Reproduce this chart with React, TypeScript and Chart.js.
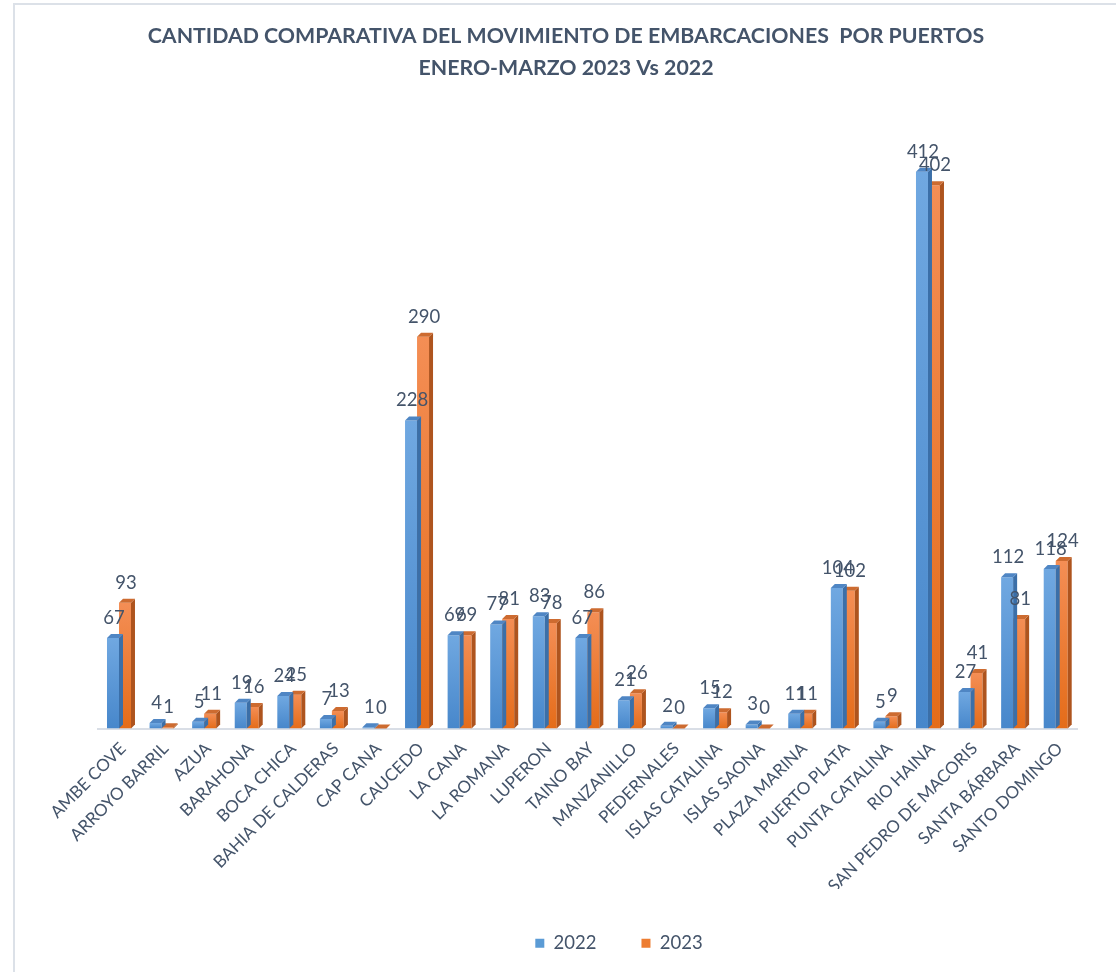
import React, { useEffect, useRef } from 'react';
import { Chart, registerables } from 'chart.js';

Chart.register(...registerables);

const categories = [
  'AMBE COVE', 'ARROYO BARRIL', 'AZUA', 'BARAHONA', 'BOCA CHICA', 'BAHIA DE CALDERAS', 'CAP CANA',
  'CAUCEDO', 'LA CANA', 'LA ROMANA', 'LUPERON', 'TAINO BAY', 'MANZANILLO', 'PEDERNALES',
  'ISLAS CATALINA', 'ISLAS SAONA', 'PLAZA MARINA', 'PUERTO PLATA', 'PUNTA CATALINA', 'RIO HAINA',
  'SAN PEDRO DE MACORIS', 'SANTA BÁRBARA', 'SANTO DOMINGO',
];
const values2022 = [67, 4, 5, 19, 24, 7, 1, 228, 69, 77, 83, 67, 21, 2, 15, 3, 11, 104, 5, 412, 27, 112, 118];
const values2023 = [93, 1, 11, 16, 25, 13, 0, 290, 69, 81, 78, 86, 26, 0, 12, 0, 11, 102, 9, 402, 41, 81, 124];
const seriesNames = ['2022', '2023'];
const titleLines = ['CANTIDAD COMPARATIVA DEL MOVIMIENTO DE EMBARCACIONES  POR PUERTOS', 'ENERO-MARZO 2023 Vs 2022'];
const yMax = 450;

const TEXT = '#44546A';
const FONT = 'Lato, "Open Sans", sans-serif';

const fitSize = (text: string, weight: string, target: number) => {
  const c = document.createElement('canvas').getContext('2d')!;
  c.font = `${weight} 100px ${FONT}`;
  return (100 * target) / c.measureText(text).width;
};

const gradient = (top: string, bottom: string) => (ctx: any) => {
  const chart = ctx.chart;
  const { chartArea, scales } = chart;
  if (!chartArea || ctx.type !== 'data' || !scales.y) return bottom;
  const yTop = scales.y.getPixelForValue(ctx.raw);
  const yBase = scales.y.getPixelForValue(0);
  if (yBase - yTop < 1) return bottom;
  const g = chart.ctx.createLinearGradient(0, yTop, 0, yBase);
  g.addColorStop(0, top);
  g.addColorStop(1, bottom);
  return g;
};

const sideColors = ['#3B6FA8', '#AE541E'];
const topColors = ['#4F86C4', '#CD6B30'];
const legendColors = ['#5B9BD5', '#ED7D31'];
const DEPTH = 4;

const framePlugin = {
  id: 'frame',
  beforeDraw(chart: any) {
    const c = chart.ctx;
    c.save();
    c.strokeStyle = '#DCE1E8';
    c.lineWidth = 2;
    c.beginPath();
    c.moveTo(14, chart.height);
    c.lineTo(14, 4);
    c.lineTo(chart.width, 4);
    c.stroke();
    c.restore();
  },
};

const depthPlugin = {
  id: 'depth3d',
  afterDatasetDraw(chart: any, args: any) {
    const c = chart.ctx;
    const di = args.index;
    c.save();
    args.meta.data.forEach((el: any) => {
      const { x, y, base, width } = el.getProps(['x', 'y', 'base', 'width'], true);
      const l = x - width / 2;
      const r = x + width / 2;
      c.fillStyle = sideColors[di];
      c.beginPath();
      c.moveTo(r, y);
      c.lineTo(r + DEPTH, y - DEPTH);
      c.lineTo(r + DEPTH, base - DEPTH);
      c.lineTo(r, base);
      c.closePath();
      c.fill();
      c.fillStyle = topColors[di];
      c.beginPath();
      c.moveTo(l, y);
      c.lineTo(l + DEPTH, y - DEPTH);
      c.lineTo(r + DEPTH, y - DEPTH);
      c.lineTo(r, y);
      c.closePath();
      c.fill();
    });
    c.restore();
  },
};

export default function App() {
  const ref = useRef<HTMLCanvasElement>(null);
  useEffect(() => {
    if (!ref.current) return;
    const titleSize = fitSize(titleLines[0], 'bold', 837);
    const labelSize = 18.5;

    const labelPlugin = {
      id: 'barLabels',
      afterDatasetsDraw(chart: any) {
        const c = chart.ctx;
        c.save();
        c.font = `${labelSize}px ${FONT}`;
        c.fillStyle = TEXT;
        c.textAlign = 'center';
        c.textBaseline = 'middle';
        chart.data.datasets.forEach((ds: any, di: number) => {
          const meta = chart.getDatasetMeta(di);
          meta.data.forEach((el: any, i: number) => {
            const { x, y } = el.getProps(['x', 'y'], true);
            c.fillText(String(ds.data[i]), x + 1, y - 20);
          });
        });
        c.restore();
      },
    };

    const chart = new Chart(ref.current, {
      type: 'bar',
      data: {
        labels: categories,
        datasets: [
          {
            label: seriesNames[0],
            data: values2022,
            backgroundColor: gradient('#70A8E1', '#4787CB'),
            borderWidth: 0,
          },
          {
            label: seriesNames[1],
            data: values2023,
            backgroundColor: gradient('#F48E55', '#E46C19'),
            borderWidth: 0,
          },
        ],
      },
      options: {
        responsive: false,
        animation: false,
        layout: { padding: { left: 55, right: 39, top: 0, bottom: 9.5 } },
        datasets: { bar: { categoryPercentage: 0.5635, barPercentage: 1 } },
        scales: {
          x: {
            grid: { display: false, drawTicks: false },
            border: { display: true, color: '#D9DEE6', width: 2 },
            ticks: {
              color: TEXT,
              font: { family: FONT, size: 17 },
              maxRotation: 45,
              minRotation: 45,
              autoSkip: false,
              padding: 10,
              labelOffset: 4,
            },
            afterFit: (s: any) => { s.height = 160.5; },
          },
          y: {
            min: 0,
            max: yMax,
            grid: { display: false, drawTicks: false },
            border: { display: false },
            ticks: { display: false },
            afterFit: (s: any) => { s.width = 42.7; },
          },
        },
        plugins: {
          title: {
            display: true,
            text: titleLines,
            color: TEXT,
            font: { family: FONT, size: titleSize, weight: 'bold', lineHeight: '32px' },
            padding: { top: 20, bottom: 36.5 },
          },
          legend: {
            display: true,
            position: 'bottom',
            fullSize: false,
            labels: {
              color: TEXT,
              font: { family: FONT, size: 18.5 },
              boxWidth: 9,
              boxHeight: 9,
              padding: 45,
              generateLabels: (ch: any) => {
                const items = (Chart.defaults.plugins.legend.labels as any).generateLabels(ch);
                items.forEach((it: any, i: number) => {
                  it.fillStyle = legendColors[i];
                  it.strokeStyle = legendColors[i];
                  it.lineWidth = 0;
                });
                return [
                  { text: '', fillStyle: 'rgba(0,0,0,0)', strokeStyle: 'rgba(0,0,0,0)', lineWidth: 0, hidden: false, datasetIndex: -1 },
                  ...items,
                ];
              },
            },
            onClick: () => {},
          },
          tooltip: { enabled: false },
        },
      },
      plugins: [framePlugin, depthPlugin, labelPlugin],
    } as any);
    return () => chart.destroy();
  }, []);

  return (
    <div style={{ position: 'absolute', left: 0, top: 0, width: 1116, height: 972, background: '#fff' }}>
      <canvas ref={ref} width={1116} height={972} />
    </div>
  );
}
